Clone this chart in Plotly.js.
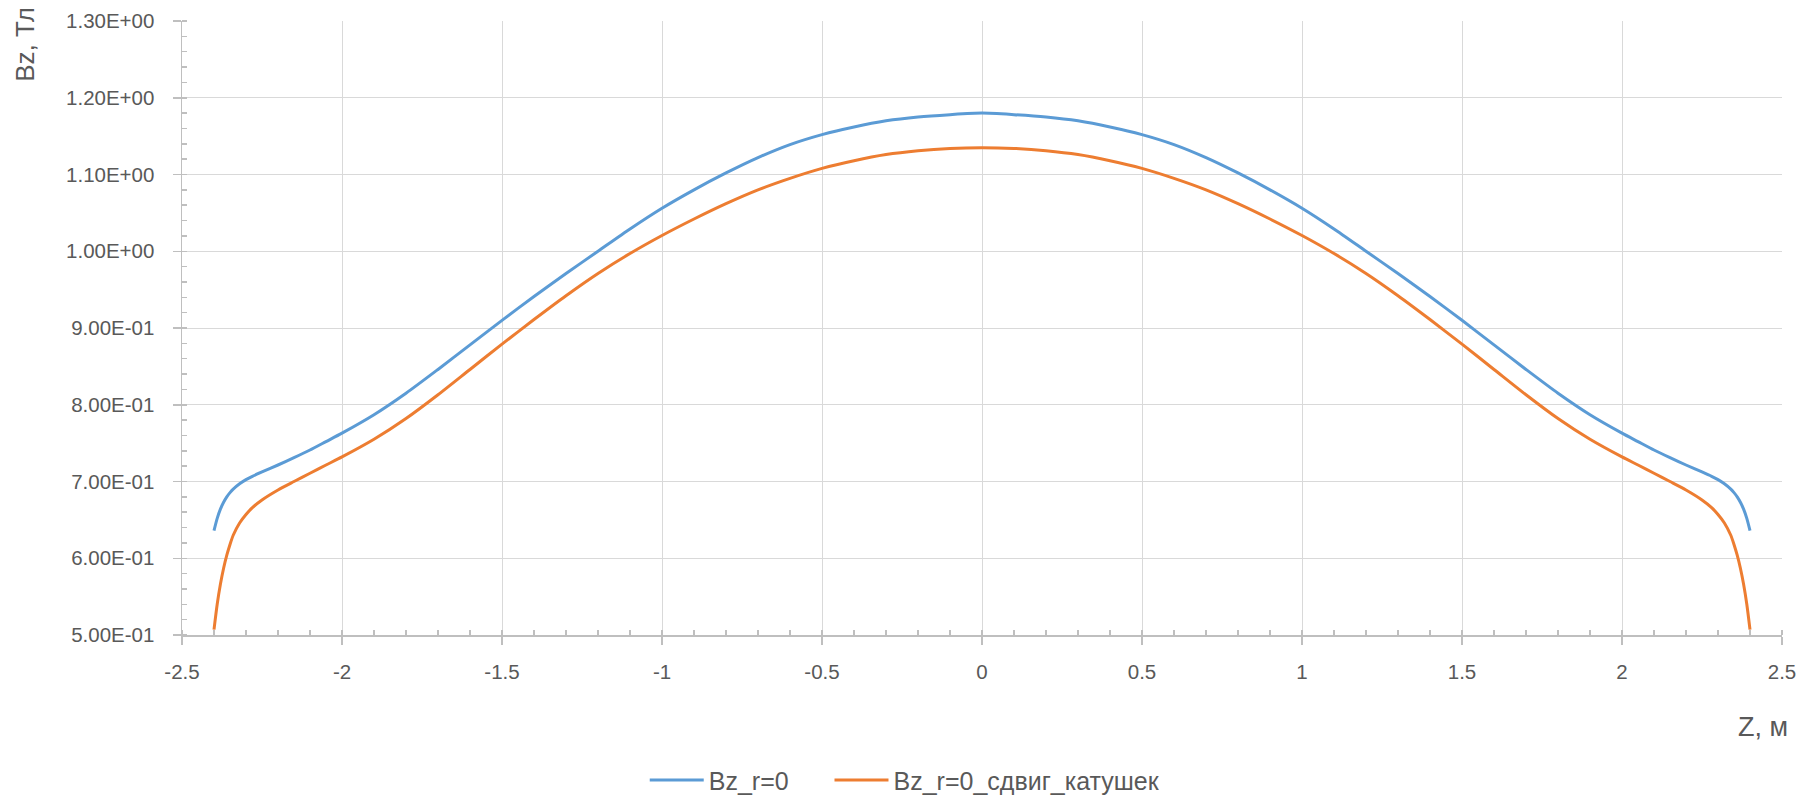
<!DOCTYPE html>
<html>
<head>
<meta charset="utf-8">
<script src="https://cdn.plot.ly/plotly-3.0.1.min.js"></script>
<style>
html,body{margin:0;padding:0;background:#fff;}
#chart{width:1806px;height:801px;}
</style>
</head>
<body>
<div id="chart"></div>
<script>
// Z, m
const zValues = [
  -2.4,-2.39,-2.38,-2.37,-2.36,-2.35,-2.34,-2.32,-2.3,-2.28,-2.25,-2.2,-2.15,-2.1,-2.05,-2.0,
  -1.9,-1.8,-1.7,-1.6,-1.5,-1.4,-1.3,-1.2,-1.1,-1.0,-0.9,-0.8,-0.7,-0.6,-0.5,-0.4,-0.3,-0.2,-0.1,0,
  0.1,0.2,0.3,0.4,0.5,0.6,0.7,0.8,0.9,1.0,1.1,1.2,1.3,1.4,1.5,1.6,1.7,1.8,1.9,
  2.0,2.05,2.1,2.15,2.2,2.25,2.28,2.3,2.32,2.34,2.35,2.36,2.37,2.38,2.39,2.4
];
// Bz_r=0
const bzR0 = [
  0.636,0.652,0.664,0.673,0.680,0.6855,0.690,0.697,0.7024,0.7068,0.7125,0.7215,0.731,0.741,0.752,0.763,
  0.787,0.815,0.846,0.878,0.910,0.941,0.971,1.000,1.029,1.056,1.080,1.102,1.122,1.139,1.152,1.162,1.170,1.175,1.178,1.180,
  1.178,1.175,1.170,1.162,1.152,1.139,1.122,1.102,1.080,1.056,1.029,1.000,0.971,0.941,0.910,0.878,0.846,0.815,0.787,
  0.763,0.752,0.741,0.731,0.7215,0.7125,0.7068,0.7024,0.697,0.690,0.6855,0.680,0.673,0.664,0.652,0.636
];
// Bz_r=0_сдвиг_катушек
const bzShift = [
  0.507,0.540,0.566,0.587,0.604,0.618,0.630,0.646,0.657,0.666,0.676,0.689,0.700,0.7108,0.7215,0.732,
  0.755,0.782,0.813,0.846,0.879,0.911,0.942,0.971,0.997,1.0205,1.042,1.062,1.080,1.095,1.108,1.118,1.126,1.131,1.134,1.135,
  1.134,1.131,1.126,1.118,1.108,1.095,1.080,1.062,1.042,1.0205,0.997,0.971,0.942,0.911,0.879,0.846,0.813,0.782,0.755,
  0.732,0.7215,0.7108,0.700,0.689,0.676,0.666,0.657,0.646,0.630,0.618,0.604,0.587,0.566,0.540,0.507
];
const seriesNames = ["Bz_r=0", "Bz_r=0_сдвиг_катушек"];
const yTickVals = [0.5,0.6,0.7,0.8,0.9,1.0,1.1,1.2,1.3];
const yTickText = ["5.00E-01","6.00E-01","7.00E-01","8.00E-01","9.00E-01","1.00E+00","1.10E+00","1.20E+00","1.30E+00"];
const xTickVals = [-2.5,-2,-1.5,-1,-0.5,0,0.5,1,1.5,2,2.5];
const xTickText = ["-2.5","-2","-1.5","-1","-0.5","0","0.5","1","1.5","2","2.5"];

const FONT = "Liberation Sans, Arial, sans-serif";
const TXT = "#595959";

const traces = [
  {x: zValues, y: bzR0, name: seriesNames[0], type: "scatter", mode: "lines", legend: "legend",
   line: {color: "#5B9BD5", width: 3, shape: "spline", smoothing: 0.7}},
  {x: zValues, y: bzShift, name: seriesNames[1], type: "scatter", mode: "lines", legend: "legend2",
   line: {color: "#ED7D31", width: 3, shape: "spline", smoothing: 0.7}}
];

const legendCommon = {
  orientation: "h", xanchor: "left", yanchor: "middle",
  xref: "container", yref: "container",
  font: {family: FONT, size: 25, color: TXT}, itemwidth: 54, bgcolor: "rgba(0,0,0,0)"
};

const layout = {
  width: 1806, height: 801,
  margin: {l: 181.5, r: 23.5, t: 20.7, b: 166, autoexpand: false},
  paper_bgcolor: "#fff", plot_bgcolor: "#fff",
  font: {family: FONT, size: 20, color: TXT},
  showlegend: true,
  legend: Object.assign({}, legendCommon, {x: 0.357, y: 0.026}),
  legend2: Object.assign({}, legendCommon, {x: 0.4593, y: 0.026}),
  xaxis: {
    range: [-2.5, 2.5], tickmode: "array", tickvals: xTickVals, ticktext: xTickText,
    showgrid: true, gridcolor: "#d9d9d9", gridwidth: 1,
    zeroline: false, showline: true, linecolor: "#bfbfbf", linewidth: 1.5,
    ticks: "outside", ticklen: 8, tickcolor: "#bfbfbf", tickwidth: 1.5,
    ticklabelstandoff: 10,
    tickfont: {family: FONT, size: 20.5, color: TXT},
    minor: {dtick: 0.1, ticks: "inside", ticklen: 5, tickcolor: "#bfbfbf", tickwidth: 1.5, showgrid: false},
    fixedrange: true
  },
  yaxis: {
    range: [0.5, 1.3], tickmode: "array", tickvals: yTickVals, ticktext: yTickText,
    showgrid: true, gridcolor: "#d9d9d9", gridwidth: 1,
    zeroline: false, showline: true, linecolor: "#bfbfbf", linewidth: 1.5,
    ticks: "outside", ticklen: 8, tickcolor: "#bfbfbf", tickwidth: 1.5,
    ticklabelstandoff: 14,
    tickfont: {family: FONT, size: 20.5, color: TXT},
    minor: {dtick: 0.02, ticks: "inside", ticklen: 5, tickcolor: "#bfbfbf", tickwidth: 1.5, showgrid: false},
    fixedrange: true
  },
  annotations: [
    {text: "Bz, Тл", xref: "paper", yref: "paper", x: -0.0978, y: 0.962,
     xanchor: "center", yanchor: "middle", textangle: -90, showarrow: false,
     font: {family: FONT, size: 26, color: TXT}},
    {text: "Z, м", xref: "paper", yref: "paper", x: 0.988, y: -0.15,
     xanchor: "center", yanchor: "middle", showarrow: false,
     font: {family: FONT, size: 27, color: TXT}}
  ]
};

Plotly.newPlot("chart", traces, layout, {displayModeBar: false, staticPlot: true});
</script>
</body>
</html>
